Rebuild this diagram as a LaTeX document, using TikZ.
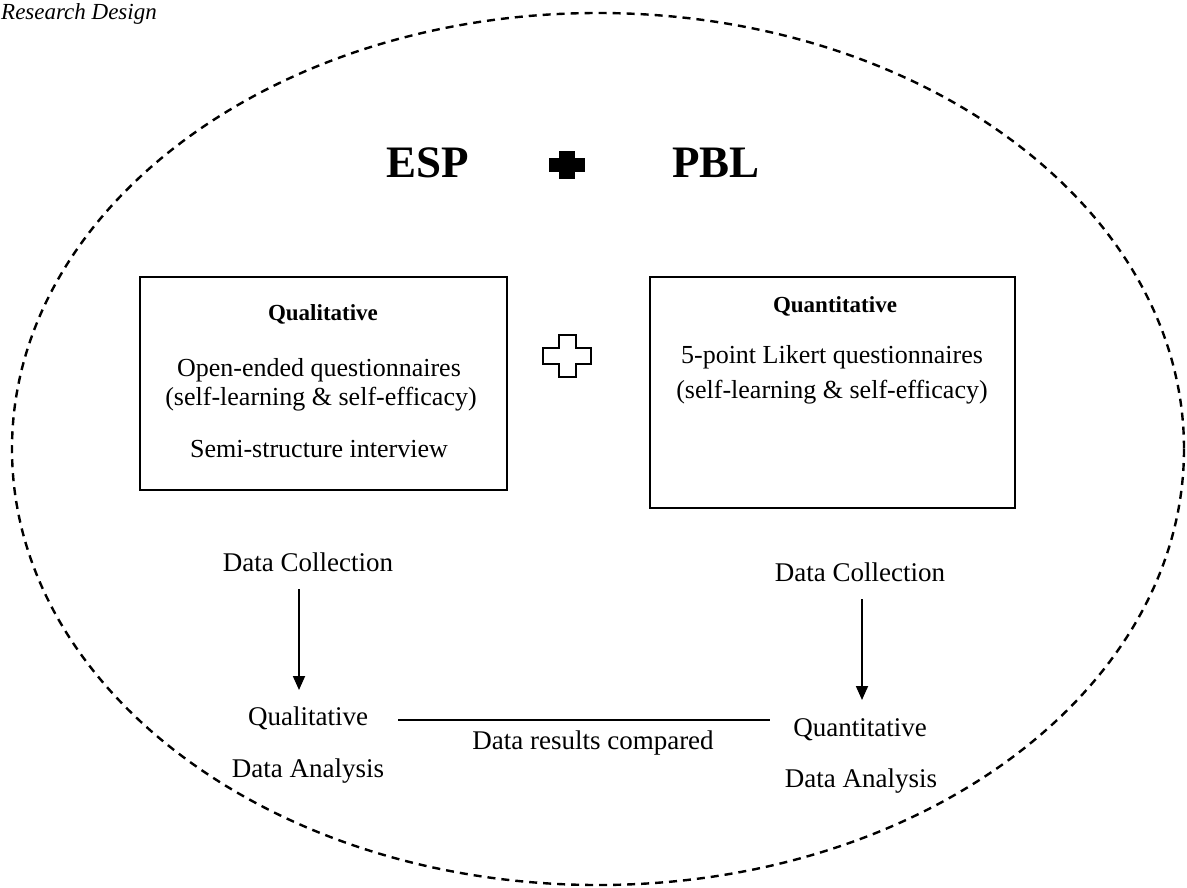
\documentclass[tikz,border=0pt]{standalone}
\usepackage{fontspec}
\setmainfont{Liberation Serif}
\usetikzlibrary{arrows.meta}
\begin{document}
\begin{tikzpicture}[x=1pt,y=-1pt,
  txt/.style={inner sep=0pt, anchor=base, font=\fontsize{26}{30}\selectfont},
  lbl/.style={inner sep=0pt, anchor=base, font=\fontsize{27}{31}\selectfont},
  head/.style={inner sep=0pt, anchor=base, font=\bfseries\fontsize{23}{27}\selectfont},
  big/.style={inner sep=0pt, anchor=base, font=\bfseries\fontsize{45}{50}\selectfont},
  boxstyle/.style={draw, line width=2pt, inner sep=0pt},
  conn/.style={line width=1.8pt},
  arr/.style={conn, -{Triangle[width=12pt,length=14pt]}},
  dashell/.style={line width=2.4pt, dash pattern=on 8pt off 6pt},
]
\useasboundingbox (0,0) rectangle (1187,887);

% title
\node[anchor=base west, inner sep=0pt, font=\itshape\fontsize{23}{27}\selectfont] (title) at (1,19) {Research Design};

% dashed ellipse
\draw[dashell] (598,449) ellipse [x radius=586, y radius=436];

% ESP + PBL
\node[big] (esp) at (428,177) {ESP};
\node[big] (pbl) at (716,177) {PBL};
\fill (559,151) rectangle (575,179);
\fill (549,158) rectangle (585,172);

% boxes
\node[boxstyle, minimum width=367pt, minimum height=213pt] (qualbox) at (323.5,383.5) {};
\node[boxstyle, minimum width=365pt, minimum height=231pt] (quanbox) at (832.5,392.5) {};

\node[head] (qualh) at (323,320) {Qualitative};
\node[txt] (q1) at (319,376) {Open-ended questionnaires};
\node[txt] (q2) at (321,405) {(self-learning \& self-efficacy)};
\node[txt] (q3) at (319,457) {Semi-structure interview};

\node[head] (quanh) at (835,312) {Quantitative};
\node[txt] (n1) at (832,363) {5-point Likert questionnaires};
\node[txt] (n2) at (832,398) {(self-learning \& self-efficacy)};

% open plus
\draw[line width=2.2pt, line join=miter] (559,335) -- (576,335) -- (576,348) -- (591,348) -- (591,364) -- (576,364) -- (576,377) -- (559,377) -- (559,364) -- (543,364) -- (543,348) -- (559,348) -- cycle;

% lower flow
\node[lbl] (dcl) at (308,571) {Data Collection};
\node[lbl] (qll) at (308,725) {Qualitative};
\node[lbl] (dal) at (308,777) {Data Analysis};

\node[lbl] (dcr) at (860,581) {Data Collection};
\node[lbl] (qnr) at (860,736) {Quantitative};
\node[lbl] (dar) at (861,787) {Data Analysis};

\node[lbl] (cmp) at (593,749) {Data results compared};

\coordinate (al1) at (299,589);
\coordinate (al2) at (299,690);
\coordinate (ar1) at (862,599);
\coordinate (ar2) at (862,700);
\coordinate (h1) at (398,720);
\coordinate (h2) at (770,720);

\draw[arr] (al1) -- (al2);
\draw[arr] (ar1) -- (ar2);
\draw[conn] (h1) -- (h2);
\end{tikzpicture}
\end{document}
